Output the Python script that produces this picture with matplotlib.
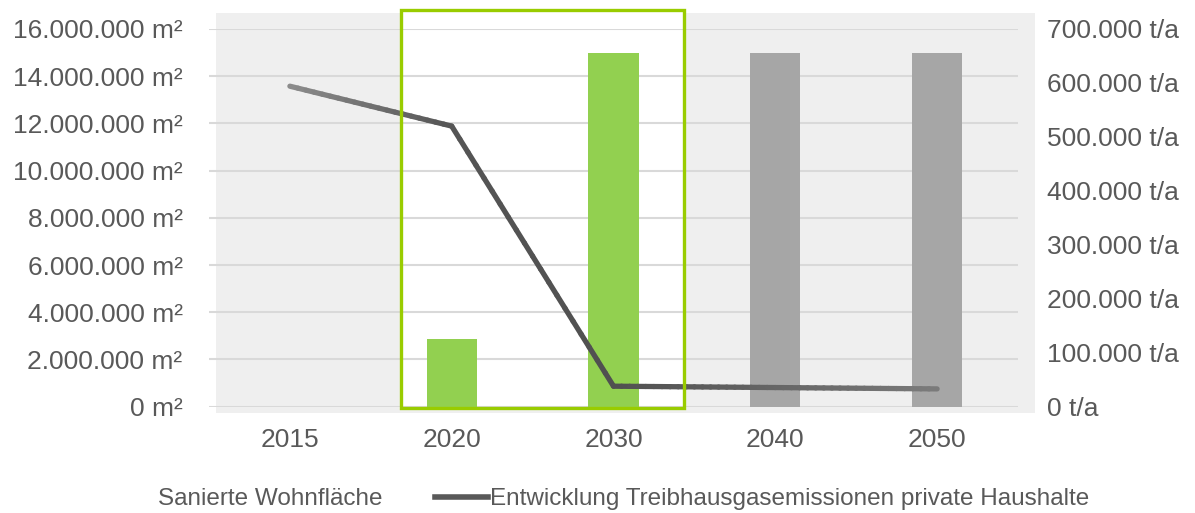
import numpy as np
import matplotlib
matplotlib.use("Agg")
import matplotlib.pyplot as plt
from matplotlib.patches import Rectangle, Patch
from matplotlib.lines import Line2D
from matplotlib.collections import LineCollection
from matplotlib.colors import LinearSegmentedColormap
from matplotlib.ticker import FuncFormatter

years = ["2015", "2020", "2030", "2040", "2050"]
wohnflaeche = [0, 2_870_000, 15_000_000, 15_000_000, 15_000_000]
emissionen = [594_000, 520_000, 38_000, 35_500, 33_000]
bar_colors = ["#a6a6a6", "#92d050", "#92d050", "#a6a6a6", "#a6a6a6"]

text_col = "#595959"
plt.rcParams["font.family"] = ["Liberation Sans", "DejaVu Sans"]


def punkte(v):
    return f"{int(v):,}".replace(",", ".")


fig = plt.figure(figsize=(11.95, 5.13), dpi=100)
ax = fig.add_axes([209 / 1195, 1 - 406.7 / 513, 809 / 1195, 377.7 / 513])
ax.patch.set_alpha(0)

# grauer Hintergrund und hervorgehobener Zeitraum 2020-2030
fig.patches.append(Rectangle((216 / 1195, 1 - 413 / 513), 819 / 1195, 400 / 513,
                             transform=fig.transFigure, facecolor="#efefef",
                             edgecolor="none", zorder=-3))
fig.patches.append(Rectangle((401 / 1195, 1 - 408 / 513), 283 / 1195, 398 / 513,
                             transform=fig.transFigure, facecolor="white",
                             edgecolor="none", zorder=-2))

x = np.arange(len(years))
ax.bar(x, wohnflaeche, width=0.31, color=bar_colors, zorder=2)
ax.set_xlim(-0.5, len(years) - 0.5)
ax.set_ylim(0, 16_000_000)
ax.set_yticks(np.arange(0, 16_000_001, 2_000_000))
ax.yaxis.set_major_formatter(FuncFormatter(lambda v, p: f"{punkte(v)} m²"))
ax.set_xticks(x)
ax.set_xticklabels(years)
ax.grid(axis="y", color="#d9d9d9", linewidth=1.5, zorder=0)
ax.set_axisbelow(True)
for s in ax.spines.values():
    s.set_visible(False)
ax.tick_params(length=0, colors=text_col, labelsize=19)
ax.tick_params(axis="x", pad=15)
ax.tick_params(axis="y", pad=19)

ax2 = ax.twinx()
ax2.set_ylim(0, 700_000)
ax2.set_yticks(np.arange(0, 700_001, 100_000))
ax2.yaxis.set_major_formatter(FuncFormatter(lambda v, p: f"{punkte(v)} t/a"))
for s in ax2.spines.values():
    s.set_visible(False)
ax2.tick_params(length=0, colors=text_col, labelsize=19, pad=21)

# Emissionslinie mit Farbverlauf
cmap = LinearSegmentedColormap.from_list(
    "grau", [(0, "#8c8c8c"), (0.25, "#555555"), (0.5, "#505050"), (1, "#7a7a7a")])
segs, cols = [], []
n = 20
for i in range(len(years) - 1):
    xs = np.linspace(x[i], x[i + 1], n + 1)
    ys = np.linspace(emissionen[i], emissionen[i + 1], n + 1)
    for k in range(n):
        segs.append([(xs[k], ys[k]), (xs[k + 1], ys[k + 1])])
        cols.append(cmap((i + (k + 0.5) / n) / (len(years) - 1)))
lc = LineCollection(segs, colors=cols, linewidths=3.8, capstyle="round", zorder=3)
ax2.add_collection(lc)

fig.patches.append(Rectangle((401 / 1195, 1 - 408 / 513), 283 / 1195, 398 / 513,
                             transform=fig.transFigure, facecolor="none",
                             edgecolor="#99cc00", linewidth=2.4, zorder=5))

handles = [Patch(facecolor="none", edgecolor="none", label="Sanierte Wohnfläche"),
           Line2D([], [], color="#595959", linewidth=4,
                  label="Entwicklung Treibhausgasemissionen private Haushalte")]
leg = fig.legend(handles=handles, loc="center", bbox_to_anchor=(0.499, 0.027), ncol=2,
                 frameon=False, handlelength=2.18, handletextpad=0.1,
                 columnspacing=2.14, prop={"size": 17.5})
for t in leg.get_texts():
    t.set_color(text_col)

fig.savefig("out.png", dpi=100)
